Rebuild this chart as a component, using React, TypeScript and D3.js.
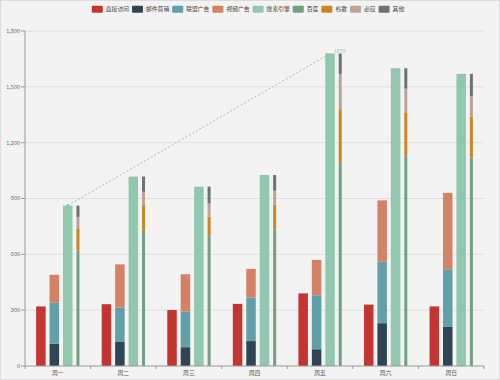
import React, { useEffect } from "react";
import * as d3 from "d3";

const categories = ["周一", "周二", "周三", "周四", "周五", "周六", "周日"];
const direct = [320, 332, 301, 334, 390, 330, 320];
const email = [120, 132, 101, 134, 90, 230, 210];
const union = [220, 182, 191, 234, 290, 330, 310];
const video = [150, 232, 201, 154, 190, 330, 410];
const search = [862, 1018, 964, 1026, 1679, 1600, 1570];
const baidu = [620, 732, 701, 734, 1090, 1130, 1120];
const google = [120, 132, 101, 134, 290, 230, 220];
const bing = [60, 72, 71, 74, 190, 130, 110];
const other = [62, 82, 91, 84, 109, 110, 120];
const yTicks = [0, 300, 600, 900, 1200, 1500, 1800];

const legendNames = ["直接访问", "邮件营销", "联盟广告", "视频广告", "搜索引擎", "百度", "谷歌", "必应", "其他"];
const colors = ["#c23531", "#2f4554", "#61a0a8", "#d48265", "#91c7ae", "#749f83", "#ca8622", "#bda29a", "#6e7074"];

const W = 500, H = 380;
const left = 25, right = 484, top = 31, bottom = 366;
const font = "'Noto Sans CJK SC', 'Noto Sans', sans-serif";

export default function App() {
  useEffect(() => {
    document.body.style.margin = "0";
  }, []);

  const x = d3.scaleBand<string>().domain(categories).range([left, right]).padding(0);
  const y = d3.scaleLinear().domain([0, 1800]).range([bottom, top]);
  const bw = x.bandwidth();
  const barW = bw * 0.145;
  const gap = bw * 0.06;
  const thinW = 3;
  const total = 3 * barW + 3 * gap + thinW;
  const off = (bw - total) / 2;
  const pos = (i: number) => off + i * (barW + gap);

  const stack = (layers: number[][], cIdx: number[], i: number, xPos: number, w: number) => {
    let acc = 0;
    return layers.map((l, k) => {
      const y0 = acc;
      acc += l[i];
      return (
        <rect key={k} x={xPos} width={w} y={y(acc)} height={y(y0) - y(acc)} fill={colors[cIdx[k]]} />
      );
    });
  };

  // legend layout
  const fs = 5.8;
  const itemWidths = legendNames.map((n) => 14 + n.length * fs);
  const itemGap = 3;
  const totalLegend = d3.sum(itemWidths) + itemGap * (legendNames.length - 1);
  let lx = 248 - totalLegend / 2;
  const legendPos = itemWidths.map((w) => {
    const p = lx;
    lx += w + itemGap;
    return p;
  });

  const i0 = d3.minIndex(search);
  const i1 = d3.maxIndex(search);
  const mx0 = (x(categories[i0]) as number) + pos(2) + barW / 2;
  const my0 = y(search[i0]);
  const mx1 = (x(categories[i1]) as number) + pos(2) + barW / 2;
  const my1 = y(search[i1]);
  const ang = Math.atan2(my1 - my0, mx1 - mx0);

  return (
    <div style={{ position: "absolute", left: 0, top: 0 }}>
      <svg width={W} height={H} style={{ display: "block" }}>
        <rect x={0.5} y={0.5} width={W - 1} height={H - 1} fill="#f3f3f3" stroke="#dcdcdc" />
        {/* grid */}
        {yTicks.slice(1).map((t) => (
          <line key={t} x1={left} x2={right} y1={y(t)} y2={y(t)} stroke="#e0e0e0" strokeWidth={1} />
        ))}
        {/* bars */}
        {categories.map((c, i) => {
          const bx = x(c) as number;
          return (
            <g key={c}>
              <rect x={bx + pos(0)} width={barW} y={y(direct[i])} height={bottom - y(direct[i])} fill={colors[0]} />
              {stack([email, union, video], [1, 2, 3], i, bx + pos(1), barW)}
              <rect x={bx + pos(2)} width={barW} y={y(search[i])} height={bottom - y(search[i])} fill={colors[4]} />
              {stack([baidu, google, bing, other], [5, 6, 7, 8], i, bx + pos(3), thinW)}
            </g>
          );
        })}
        {/* markLine */}
        <line x1={mx0} y1={my0} x2={mx1} y2={my1} stroke="#91c7ae" strokeWidth={1} strokeDasharray="2,2" />
        <circle cx={mx0} cy={my0} r={1.5} fill="#91c7ae" />
        <path
          d="M0,0 L-5,-2.5 L-4,0 L-5,2.5 Z"
          fill="#91c7ae"
          transform={`translate(${mx1},${my1}) rotate(${(ang * 180) / Math.PI})`}
        />
        <text x={mx1 + 4} y={my1 - 1} fontSize={5} fill="#91c7ae" fontFamily={font}>
          {search[i1]}
        </text>
        {/* y axis */}
        <line x1={left} x2={left} y1={top} y2={bottom} stroke="#999" strokeWidth={1} />
        {yTicks.map((t) => (
          <g key={t}>
            <line x1={left - 4} x2={left} y1={y(t)} y2={y(t)} stroke="#999" />
            <text x={left - 5} y={y(t)} dy="0.35em" textAnchor="end" fontSize={5.5} fill="#666" fontFamily={font}>
              {d3.format(",")(t)}
            </text>
          </g>
        ))}
        {/* x axis */}
        <line x1={left} x2={right} y1={bottom} y2={bottom} stroke="#999" strokeWidth={1} />
        {categories.concat([""]).map((c, i) => {
          const tx = left + i * bw;
          return <line key={"t" + i} x1={tx} x2={tx} y1={bottom} y2={bottom + 3} stroke="#999" />;
        })}
        {categories.map((c) => (
          <text key={c} x={(x(c) as number) + bw / 2} y={373} dy="0.35em" textAnchor="middle" fontSize={5.8} fill="#555" fontFamily={font}>
            {c}
          </text>
        ))}
        {/* legend */}
        {legendNames.map((n, k) => (
          <g key={n} transform={`translate(${legendPos[k]},9.3)`}>
            <rect x={0} y={-3.5} width={11} height={7} rx={1} fill={colors[k]} />
            <text x={14} y={0} dy="0.35em" fontSize={fs} fill="#444" fontFamily={font}>
              {n}
            </text>
          </g>
        ))}
      </svg>
    </div>
  );
}
